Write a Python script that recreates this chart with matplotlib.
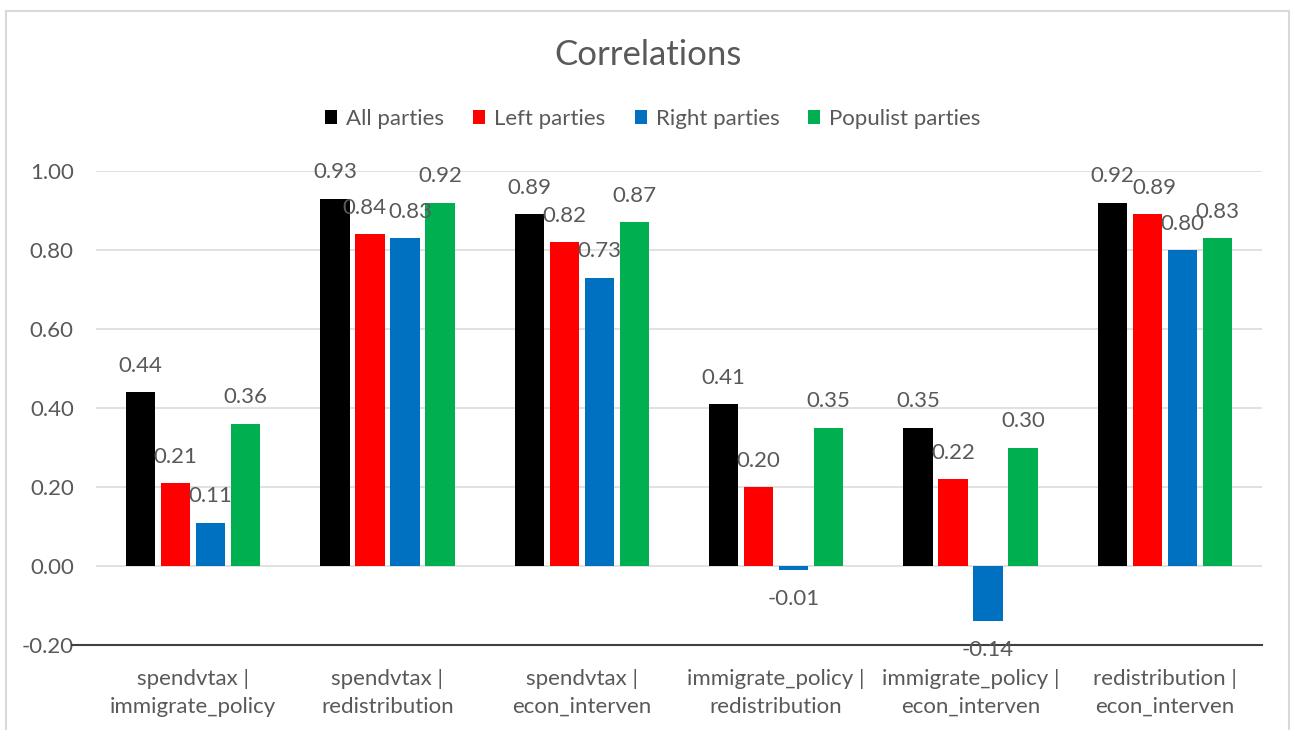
import matplotlib.pyplot as plt
from matplotlib.patches import Rectangle, Patch
import numpy as np

plt.rcParams['font.family'] = ['Lato', 'DejaVu Sans']

# correlation pairs and values per party group
pairs = ["spendvtax |\nimmigrate_policy", "spendvtax |\nredistribution",
         "spendvtax |\necon_interven", "immigrate_policy |\nredistribution",
         "immigrate_policy |\necon_interven", "redistribution |\necon_interven"]
series_names = ["All parties", "Left parties", "Right parties", "Populist parties"]
all_parties = [0.44, 0.93, 0.89, 0.41, 0.35, 0.92]
left_parties = [0.21, 0.84, 0.82, 0.20, 0.22, 0.89]
right_parties = [0.11, 0.83, 0.73, -0.01, -0.14, 0.80]
populist_parties = [0.36, 0.92, 0.87, 0.35, 0.30, 0.83]
colors = ["#000000", "#FF0000", "#0070C0", "#00B050"]

# small sideways shifts (points) for labels that would collide
nudge = {(1, 1): -4, (2, 1): 4, (1, 5): 5}

txt = "#595959"
W, H = 1291, 730
fig = plt.figure(figsize=(W / 100, H / 100), dpi=100)

# chart border
fig.patches.append(Rectangle((6 / W, -0.05), (1289 - 6) / W, 1.05 - 11 / H,
                             transform=fig.transFigure, fill=False,
                             edgecolor="#d9d9d9", lw=1.5, zorder=0))

ax = fig.add_axes([96 / W, 1 - 645 / H, (1262 - 96) / W, (645 - 171) / H])

x = np.arange(len(pairs))
width = 0.15
step = 0.18
all_series = [all_parties, left_parties, right_parties, populist_parties]
for i, vals in enumerate(all_series):
    pos = x + (i - 1.5) * step
    ax.bar(pos, vals, width, color=colors[i], zorder=3, label=series_names[i])
    for j, (px, v) in enumerate(zip(pos, vals)):
        off = 19 if v >= 0 else -21
        ax.annotate(f"{v:.2f}", (px, v), xytext=(nudge.get((i, j), 0), off),
                    textcoords="offset points", ha="center", va="center",
                    fontsize=16, color=txt, zorder=4)

ax.set_xlim(-0.5, len(pairs) - 0.5)
ax.set_ylim(-0.2, 1.0)
ticks = np.arange(-0.2, 1.01, 0.2)
ax.set_yticks(ticks)
ax.set_yticklabels([f"{t:.2f}" for t in ticks])
ax.yaxis.grid(True, color="#d9d9d9", lw=1.1, zorder=0)
ax.set_xticks(x)
ax.set_xticklabels(pairs, linespacing=1.5)
ax.tick_params(axis="both", length=0, labelsize=16, labelcolor=txt)
ax.tick_params(axis="y", pad=16)
ax.tick_params(axis="x", pad=17)
for s in ax.spines.values():
    s.set_visible(False)

# horizontal axis line at the bottom
ax.plot([-0.0206, 1], [-0.2, -0.2], transform=ax.get_yaxis_transform(),
        color="#404040", lw=1.5, clip_on=False, zorder=2)

fig.text(648 / W, 1 - 55 / H, "Correlations", ha="center", va="center",
         fontsize=25, color=txt)

handles = [Patch(facecolor=c) for c in colors]
fig.legend(handles, series_names, loc="center", bbox_to_anchor=(653 / W, 1 - 119 / H),
           ncol=4, frameon=False, fontsize=16, labelcolor=txt,
           handlelength=0.55, handleheight=0.55, handletextpad=0.4, columnspacing=1.3)

fig.savefig("out.png", dpi=100)
